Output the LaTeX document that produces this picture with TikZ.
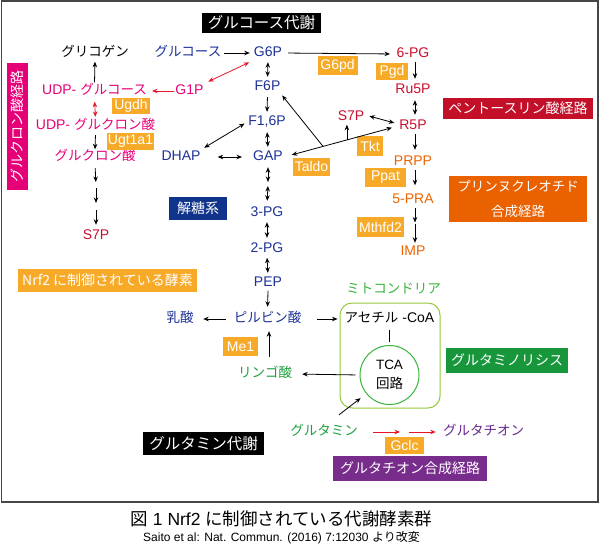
\documentclass[tikz,border=0pt]{standalone}
\usepackage{fontspec}
\setmainfont{Liberation Sans}
\newfontfamily\jpf{Noto Sans CJK JP}
\usetikzlibrary{arrows.meta}
\definecolor{tblue}{RGB}{30,50,150}
\definecolor{tmag}{RGB}{230,0,120}
\definecolor{tred}{RGB}{200,16,46}
\definecolor{torg}{RGB}{236,100,0}
\definecolor{tgreen}{RGB}{30,160,60}
\definecolor{mgreen}{RGB}{60,180,60}
\definecolor{mito}{RGB}{150,200,60}
\definecolor{enz}{RGB}{247,170,40}
\definecolor{pred}{RGB}{195,15,40}
\definecolor{porg}{RGB}{234,97,0}
\definecolor{pnavy}{RGB}{16,52,140}
\definecolor{pgreen}{RGB}{24,150,60}
\definecolor{ppurp}{RGB}{120,45,140}
\definecolor{tpurp}{RGB}{105,40,145}
\definecolor{arred}{RGB}{230,20,40}
\definecolor{framegray}{RGB}{70,70,70}
\newcommand\J[1]{{\jpf\fontsize{13.5}{16}\selectfont #1}}
\tikzset{
 lat/.style={font=\fontsize{14}{16}\selectfont, inner sep=1pt, text height=10pt, text depth=3pt},
 jp/.style={font=\fontsize{13.5}{16}\selectfont\jpf, inner sep=1pt, text height=10pt, text depth=3pt},
 tipa/.tip={Stealth[length=5.5pt,width=4.5pt]},
 arr/.style={draw=black, line width=0.8pt, -tipa},
 dbl/.style={draw=black, line width=0.8pt, tipa-tipa},
 rarr/.style={draw=arred, line width=0.8pt, -tipa},
 rdbl/.style={draw=arred, line width=0.8pt, tipa-tipa},
 ebox/.style={fill=enz, text=white, font=\fontsize{14}{16}\selectfont, inner sep=0pt},
 pbox/.style={text=white, font=\fontsize{14}{16}\selectfont\jpf, inner sep=0pt},
 tbox/.style={fill=black, text=white, font=\fontsize{15.5}{18}\selectfont\jpf, inner sep=0pt},
}
\begin{document}
\begin{tikzpicture}[x=1pt,y=-1pt]
\useasboundingbox (0,0) rectangle (600,546);
\fill[white] (0,0) rectangle (600,546);
\draw[framegray, line width=1.3pt] (1.5,1) rectangle (598,502);

% mitochondria
\draw[mito, line width=1pt, rounded corners=12pt] (340,303) rectangle (440,408);

% metabolite nodes
\node[jp] (gly) at (95,53) {グリコゲン};
\node[jp, text=tblue] (glc) at (188,53) {グルコース};
\node[lat, text=tblue] (G6P) at (268,53) {G6P};
\node[lat, text=tred] (PG6) at (413,54) {6-PG};
\node[lat, text=tred] (Ru5P) at (413,90) {Ru5P};
\node[lat, text=tred] (S7Pr) at (351,117) {S7P};
\node[lat, text=tred] (R5P) at (413,126) {R5P};
\node[lat, text=torg] (PRPP) at (413,162) {PRPP};
\node[lat, text=torg] (PRA) at (413,200) {5-PRA};
\node[lat, text=torg] (IMP) at (413,252) {IMP};
\node[lat, text=tmag] (UDPG) at (94.5,91) {UDP- \J{グルコース}};
\node[lat, text=tmag] (G1P) at (189.5,91) {G1P};
\node[lat, text=tmag] (UDPGA) at (95.5,126) {UDP- \J{グルクロン酸}};
\node[jp, text=tmag] (GlcA) at (95,157) {グルクロン酸};
\node[lat, text=tred] (S7Pl) at (96,236) {S7P};
\node[lat, text=tblue] (F6P) at (267.5,87) {F6P};
\node[lat, text=tblue] (F16P) at (267,122) {F1,6P};
\node[lat, text=tblue] (GAP) at (268,157) {GAP};
\node[lat, text=tblue] (DHAP) at (181,157) {DHAP};
\node[lat, text=tblue] (PG3) at (267,213) {3-PG};
\node[lat, text=tblue] (PG2) at (267,249) {2-PG};
\node[lat, text=tblue] (PEP) at (268,283) {PEP};
\node[jp, text=tblue] (pyr) at (267.5,319) {ピルビン酸};
\node[jp, text=tblue] (lac) at (180,319) {乳酸};
\node[jp, text=tgreen] (mal) at (265,374) {リンゴ酸};
\node[jp, text=mgreen] (mitolbl) at (393.5,290) {ミトコンドリア};
\node[lat] (acoa) at (389.5,319) {\J{アセチル} -CoA};
\node[circle, draw=mgreen, line width=1pt, minimum size=59pt, inner sep=0pt, align=center,
      font=\fontsize{13.5}{19}\selectfont] (TCA) at (389.5,375) {TCA\\\J{回路}};
\node[jp, text=tgreen] (gln) at (324,432) {グルタミン};
\node[jp, text=tpurp] (gsh) at (483.5,432) {グルタチオン};

% enzyme boxes
\node[ebox, minimum width=40pt, minimum height=19pt] (G6pd) at (337.5,65.5) {G6pd};
\node[ebox, minimum width=32pt, minimum height=17pt] (Pgd) at (392,71.5) {Pgd};
\node[ebox, minimum width=26pt, minimum height=20pt] (Tkt) at (370,146) {Tkt};
\node[ebox, minimum width=37pt, minimum height=18pt] (Taldo) at (311.5,166.5) {Taldo};
\node[ebox, minimum width=41pt, minimum height=19pt] (Ppat) at (385.5,177.5) {Ppat};
\node[ebox, minimum width=47pt, minimum height=20pt] (Mthfd2) at (380.5,227) {Mthfd2};
\node[ebox, minimum width=38pt, minimum height=16pt] (Ugdh) at (131,105.5) {Ugdh};
\node[ebox, minimum width=47pt, minimum height=17pt] (Ugt) at (130.5,141.5) {Ugt1a1};
\node[ebox, minimum width=35pt, minimum height=19pt] (Me1) at (240.5,346.5) {Me1};
\node[ebox, minimum width=39pt, minimum height=17pt] (Gclc) at (404.5,445) {Gclc};

% pathway boxes
\node[tbox, minimum width=119pt, minimum height=20pt] (tglc) at (261.5,23) {グルコース代謝};
\node[tbox, minimum width=121pt, minimum height=23pt] (tgln) at (203.5,443.5) {グルタミン代謝};
\node[pbox, fill=pred, minimum width=150pt, minimum height=21pt] (pppp) at (518,108.5) {ペントースリン酸経路};
\node[pbox, fill=porg, minimum width=138pt, minimum height=46pt, align=center,
      font=\fontsize{13.5}{25}\selectfont\jpf] (ppur) at (518,199) {プリンヌクレオチド\\合成経路};
\node[pbox, fill=pnavy, minimum width=58pt, minimum height=23pt] (pgly) at (198,208.5) {解糖系};
\node[pbox, fill=enz, minimum width=179pt, minimum height=23pt] (pnrf) at (107.5,280.5) {Nrf2 に制御されている酵素};
\node[pbox, fill=tmag, minimum width=127pt, minimum height=21pt, rotate=90] (pglcA) at (17.5,126.5) {グルクロン酸経路};
\node[pbox, fill=pgreen, minimum width=122pt, minimum height=25pt] (pglut) at (507,360.5) {グルタミノリシス};
\node[pbox, fill=ppurp, minimum width=154pt, minimum height=25pt] (pgsh) at (410,468) {グルタチオン合成経路};

% intermediate coordinates
\coordinate (c1) at (96,185.5);
\coordinate (c2) at (96,206.5);
\coordinate (mGP) at (268,184);
\coordinate (c3) at (415,223);
\coordinate (c4) at (405,432);

% left column
\draw[arr, shorten <=1pt, shorten >=1pt] (UDPG.north) -- (gly.south);
\draw[rarr, shorten <=0pt, shorten >=4pt] (G1P.west) -- (UDPG.east);
\draw[rdbl, shorten <=4pt, shorten >=4pt] (G1P.north east) -- (G6P.south west);
\draw[rdbl, shorten <=3pt, shorten >=1.5pt] (UDPG.south) -- (UDPGA.north);
\draw[arr, shorten <=1.5pt, shorten >=0pt] (UDPGA.south) -- (GlcA.north);
\draw[arr, shorten <=3.5pt, shorten >=3.5pt] (GlcA.south) -- (c1);
\draw[arr, shorten <=2.5pt, shorten >=3.5pt] (c1) -- (c2);
\draw[arr, shorten <=3.5pt, shorten >=3.5pt] (c2) -- (S7Pl.north);

% glycolysis
\draw[arr, shorten <=2pt, shorten >=3pt] (glc.east) -- (G6P.west);
\draw[dbl, shorten <=1.5pt, shorten >=2.5pt] (G6P.south) -- (F6P.north);
\draw[arr, shorten <=2.5pt, shorten >=2.5pt] (F6P.south) -- (F16P.north);
\draw[dbl, shorten <=2.5pt, shorten >=2.5pt] (F16P.south) -- (GAP.north);
\draw[dbl, shorten <=3pt, shorten >=3pt] (F16P.west) -- (DHAP.north east);
\draw[dbl, shorten <=16pt, shorten >=10pt] (DHAP.east) -- (GAP.west);
\draw[dbl, shorten <=2.5pt, shorten >=2pt] (GAP.south) -- (mGP);
\draw[dbl, shorten <=2pt, shorten >=4.5pt] (mGP) -- (PG3.north);
\draw[dbl, shorten <=1.5pt, shorten >=3.5pt] (PG3.south) -- (PG2.north);
\draw[dbl, shorten <=1pt, shorten >=2.5pt] (PG2.south) -- (PEP.north);
\draw[arr, shorten <=0pt, shorten >=4.5pt] (PEP.south) -- (pyr.north);
\draw[arr, shorten <=7pt, shorten >=8.5pt] (pyr.west) -- (lac.east);
\draw[arr, shorten <=15pt, shorten >=6pt] (pyr.east) -- (acoa.west);
\draw[arr, shorten <=9.5pt, shorten >=4.5pt] ([xshift=4pt]mal.north) -- ([xshift=1.5pt]pyr.south);

% pentose phosphate
\draw[arr, shorten <=5pt, shorten >=5.5pt] (G6P.east) -- (PG6.west);
\draw[arr, shorten <=0.5pt, shorten >=3.5pt] ([xshift=2pt]PG6.south) -- ([xshift=2pt]Ru5P.north);
\draw[dbl, shorten <=2.5pt, shorten >=3.5pt] ([xshift=2pt]Ru5P.south) -- ([xshift=2pt]R5P.north);
\draw[arr, shorten <=0pt, shorten >=4.5pt] ([xshift=2pt]R5P.south) -- ([xshift=2pt]PRPP.north);
\draw[arr, shorten <=0.5pt, shorten >=7pt] ([xshift=2pt]PRPP.south) -- ([xshift=2pt]PRA.north);
\draw[arr, shorten <=0pt, shorten >=0.5pt] ([xshift=2pt]PRA.south) -- (c3);
\draw[arr, shorten <=0.5pt, shorten >=1.5pt] (c3) -- ([xshift=2pt]IMP.north);
\draw[dbl, shorten <=8pt, shorten >=6.5pt] (GAP.east) -- coordinate[pos=0.342] (bF) coordinate[pos=0.551] (bT) (R5P.west);
\draw[arr, shorten >=1pt] (bF) -- (F6P.south east);
\draw[arr] (bT) -- (bT |- S7Pr.south);
\draw[dbl, shorten <=4pt, shorten >=4pt] ([yshift=2pt]S7Pr.east) -- ([yshift=2pt]R5P.west);

% mitochondria / TCA
\draw[draw=black, line width=0.8pt, shorten <=3pt, shorten >=3pt] (acoa.south) -- (TCA.north);
\draw[arr, shorten <=4pt, shorten >=9pt] (TCA.west) -- (mal.east);
\draw[arr, shorten >=7pt] ([xshift=15pt,yshift=9.5pt]gln.north) -- (TCA.219);

% glutathione
\draw[rarr, shorten <=14pt, shorten >=5pt] (gln.east) -- (c4);
\draw[rarr, shorten <=4pt, shorten >=6pt] (c4) -- (gsh.west);

% caption
\node[font=\fontsize{17.5}{20}\selectfont, inner sep=0pt] (cap1) at (281.5,519) {{\jpf 図} 1 Nrf2 {\jpf に制御されている代謝酵素群}};
\node[font=\fontsize{12}{14}\selectfont, inner sep=0pt] (cap2) at (281.5,538) {Saito et al: Nat. Commun. (2016) 7:12030 {\jpf より改変}};
\end{tikzpicture}
\end{document}
